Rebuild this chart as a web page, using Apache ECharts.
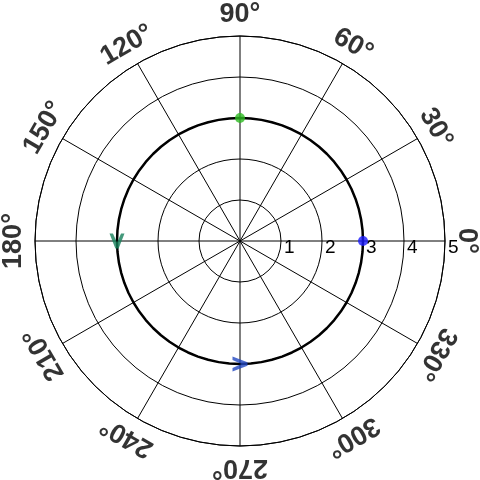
<!DOCTYPE html>
<html><head><meta charset="utf-8">
<script src="https://cdn.jsdelivr.net/npm/echarts@6/dist/echarts.min.js"></script>
<style>html,body{margin:0;padding:0;background:#fff}#c{width:480px;height:480px}</style>
</head><body><div id="c"></div>
<script>
// ---- data ----
const angleTicks = [0, 30, 60, 90, 120, 150, 180, 210, 240, 270, 300, 330];
const angleTickLabels = ['0°', '30°', '60°', '90°', '120°', '150°', '180°', '210°', '240°', '270°', '300°', '330°'];
const radiusTickLabels = ['', '1', '2', '3', '4', '5'];
const orbitAngles = [0, 5, 10, 15, 20, 25, 30, 35, 40, 45, 50, 55, 60, 65, 70, 75, 80, 85, 90,
  95, 100, 105, 110, 115, 120, 125, 130, 135, 140, 145, 150, 155, 160, 165, 170, 175, 180,
  185, 190, 195, 200, 205, 210, 215, 220, 225, 230, 235, 240, 245, 250, 255, 260, 265, 270,
  275, 280, 285, 290, 295, 300, 305, 310, 315, 320, 325, 330, 335, 340, 345, 350, 355, 360];
const orbitRadius = 3;
const blueDot = [3, 0];     // [r, theta]
const greenDot = [3, 90];
const greenArrow = [3, 180];
const blueArrow = [3, 270];

// ---- chart ----
const LABEL_R = 5.52;
const chevron = 'path://M0,0 L2.3,0 L5,6 L7.7,0 L10,0 L6.1,10 L3.9,10 Z';
const chart = echarts.init(document.getElementById('c'));
chart.setOption({
  animation: false,
  backgroundColor: '#fff',
  polar: { center: [240, 241], radius: 205 },
  angleAxis: {
    type: 'value', min: 0, max: 360, interval: 30,
    startAngle: 0, clockwise: false,
    axisLine: { show: true, lineStyle: { color: '#000', width: 1 } },
    axisTick: { show: false },
    axisLabel: { show: false },
    splitLine: { show: true, lineStyle: { color: '#000', width: 1 } }
  },
  radiusAxis: {
    type: 'value', min: 0, max: 5, interval: 1,
    axisLine: { show: false },
    axisTick: { show: false },
    splitLine: { show: true, lineStyle: { color: '#000', width: 1 } },
    axisLabel: {
      show: true, margin: 3, align: 'left', verticalAlign: 'top', padding: [0, 0, 0, 3],
      color: '#000', fontSize: 19, fontFamily: 'Liberation Sans, Arial, sans-serif',
      formatter: (v) => radiusTickLabels[Math.round(v)]
    }
  },
  series: [
    {
      type: 'line', coordinateSystem: 'polar', smooth: false, showSymbol: false,
      lineStyle: { color: '#000', width: 2.5 },
      data: orbitAngles.map(a => [orbitRadius, a]), z: 3
    },
    {
      type: 'scatter', coordinateSystem: 'polar', symbol: 'circle', symbolSize: 10, z: 5,
      data: [
        { value: blueDot, itemStyle: { color: '#1a1aff' } },
        { value: greenDot, itemStyle: { color: '#2ebb22' } }
      ]
    },
    {
      type: 'scatter', coordinateSystem: 'polar', symbol: chevron, symbolSize: [15, 15], z: 5,
      data: [
        { value: greenArrow, symbolRotate: 0, itemStyle: { color: '#15805a' } },
        { value: blueArrow, symbolRotate: 90, itemStyle: { color: '#2247c0' } }
      ]
    },
    {
      type: 'scatter', coordinateSystem: 'polar', clip: false, symbol: 'circle', symbolSize: 1, z: 6,
      itemStyle: { color: 'rgba(0,0,0,0)' },
      silent: true,
      data: angleTicks.map((a, i) => ({
        value: [LABEL_R, a], name: angleTickLabels[i],
        label: { rotate: a - 90 }
      })),
      label: {
        show: true, position: 'inside', formatter: p => p.name,
        color: '#000', fontSize: 27, fontWeight: 'bold',
        fontFamily: 'Liberation Sans, Arial, sans-serif',
        align: 'center', verticalAlign: 'middle'
      }
    }
  ]
});
</script>
</body></html>
